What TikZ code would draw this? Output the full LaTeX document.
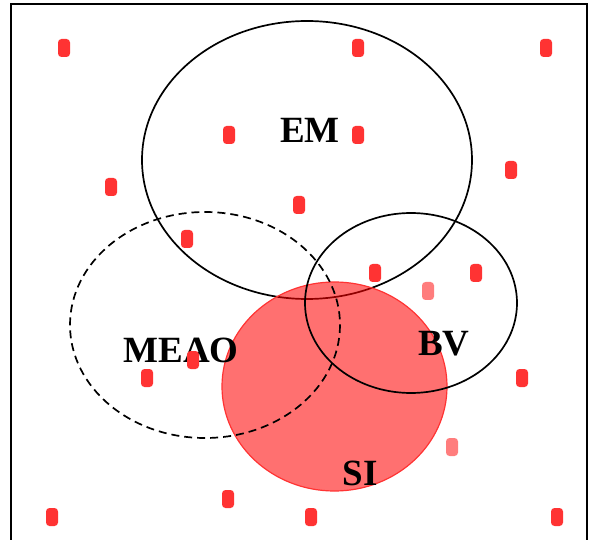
\documentclass[tikz,border=0pt]{standalone}
\usepackage{fontspec}
\setmainfont{Liberation Serif}
\begin{document}
\begin{tikzpicture}[x=1pt,y=-1pt,
  dot/.style={draw=none,fill=dotred,rounded corners=3.5pt,minimum width=12pt,minimum height=18pt,inner sep=0pt},
  pale/.style={dot,fill=dotpale},
  setline/.style={draw=black,line width=1.7pt},
  setlabel/.style={font=\fontsize{37}{40}\selectfont\bfseries,inner sep=0pt}]
\definecolor{dotred}{RGB}{255,51,51}
\definecolor{dotpale}{RGB}{255,125,125}
\useasboundingbox (0,0) rectangle (592,540);
% frame
\draw[line width=2pt] (11,548) -- (11,4.5) -- (587,4.5) -- (587,548);
% sets
\draw[setline] (307,160) ellipse [x radius=165, y radius=139];
\fill[red,fill opacity=0.56] (334.5,386.5) ellipse [x radius=112.5, y radius=104.5];
\draw[draw=dotred,line width=1.2pt] (334.5,386.5) ellipse [x radius=112.5, y radius=104.5];
\draw[setline] (411,303) ellipse [x radius=106, y radius=90];
\draw[setline,dash pattern=on 8pt off 5pt] (205,325) ellipse [x radius=135, y radius=113];
% labels
\node[setlabel] (em) at (310,130) {EM};
\node[setlabel] (meao) at (181,350) {MEAO};
\node[setlabel] (bv) at (444,344) {BV};
\node[setlabel] (si) at (360,473) {SI};
% elements
\node[dot] (d1) at (64,48) {};
\node[dot] (d2) at (358,48) {};
\node[dot] (d3) at (546,48) {};
\node[dot] (d4) at (229,135) {};
\node[dot] (d5) at (358,135) {};
\node[dot] (d6) at (111,187) {};
\node[dot] (d7) at (511,170) {};
\node[dot] (d8) at (299,205) {};
\node[dot] (d9) at (187,239) {};
\node[dot] (d10) at (375,273) {};
\node[dot] (d11) at (476,273) {};
\node[pale] (d12) at (428,291) {};
\node[dot] (d13) at (193,360) {};
\node[dot] (d14) at (147,378) {};
\node[dot] (d15) at (522,378) {};
\node[pale] (d16) at (452,447) {};
\node[dot] (d17) at (228,499) {};
\node[dot] (d18) at (52,517) {};
\node[dot] (d19) at (311,517) {};
\node[dot] (d20) at (557,517) {};
\end{tikzpicture}
\end{document}
